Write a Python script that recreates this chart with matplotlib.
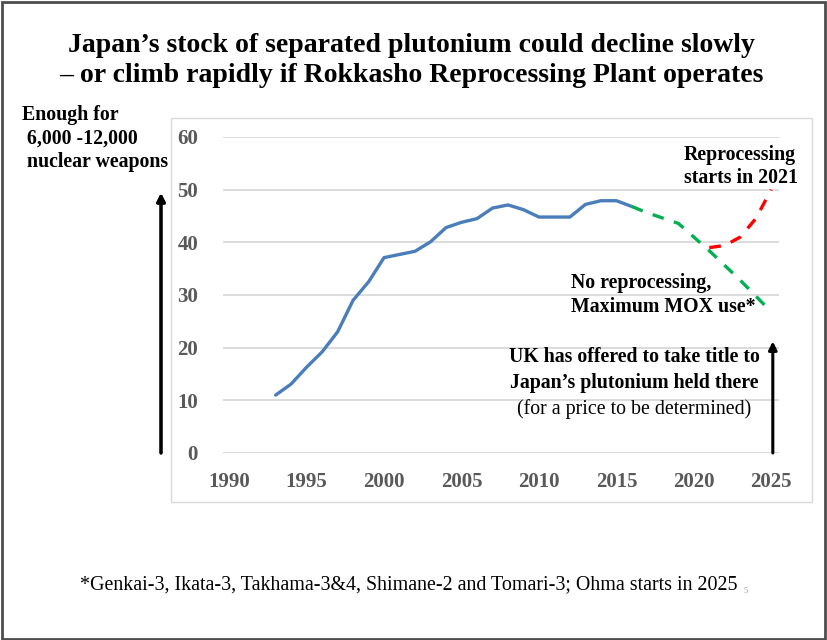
import matplotlib
matplotlib.use("Agg")
import matplotlib.pyplot as plt
from matplotlib.patches import Rectangle

# separated plutonium stock (tonnes)
years_hist = [1993, 1994, 1995, 1996, 1997, 1998, 1999, 2000, 2001, 2002, 2003, 2004,
              2005, 2006, 2007, 2008, 2009, 2010, 2011, 2012, 2013, 2014, 2015, 2016]
stock_hist = [11.0, 13.1, 16.3, 19.2, 23.0, 29.0, 32.5, 37.1, 37.7, 38.3, 40.1, 42.8,
              43.8, 44.5, 46.5, 47.1, 46.2, 44.8, 44.8, 44.8, 47.2, 47.9, 47.9, 46.8]

years_mox = [2016, 2017, 2018, 2019, 2020, 2021, 2022, 2023, 2024, 2025]
stock_mox = [46.8, 45.6, 44.6, 43.6, 41.0, 38.4, 35.6, 32.8, 29.8, 26.8]

years_rep = [2021, 2022, 2023, 2024, 2025]
stock_rep = [39.0, 39.4, 41.0, 44.5, 50.0]

xticks = [1990, 1995, 2000, 2005, 2010, 2015, 2020, 2025]
yticks = [0, 10, 20, 30, 40, 50, 60]

W, H = 827, 640
serif = "Liberation Serif"
fig = plt.figure(figsize=(W / 100, H / 100), dpi=100)

def fx(px):
    return px / W

def fy(py):
    # py measured from top of the image
    return 1 - py / H

# outer frame and chart box
fig.patches.append(Rectangle((fx(1.5), fy(638.5)), fx(823), 636.5 / H, transform=fig.transFigure,
                             fill=False, edgecolor="#4d4d4d", lw=2))
fig.patches.append(Rectangle((fx(171), fy(502)), fx(641), 384 / H, transform=fig.transFigure,
                             fill=False, edgecolor="#d9d9d9", lw=1))

ax = fig.add_axes([fx(223), fy(453), fx(556), (453 - 137) / H])
ax.plot(years_hist, stock_hist, color="#4a7ebb", lw=2.4, solid_capstyle="round")
ax.plot(years_mox, stock_mox, color="#00b050", lw=2.4, dashes=(3.5, 3.2))
ax.plot(years_rep, stock_rep, color="#ff0000", lw=2.4, dashes=(3.5, 3.2))

ax.set_xlim(1989.6, 2025.5)
ax.set_ylim(0, 60)
ax.set_xticks(xticks)
ax.set_yticks(yticks)
ax.grid(axis="y", color="#d9d9d9", lw=1.3)
ax.set_axisbelow(True)
for s in ax.spines.values():
    s.set_visible(False)
ax.tick_params(length=0, labelcolor="#595959")
ax.tick_params(axis="y", pad=18)
ax.tick_params(axis="x", pad=14)
for lab in ax.get_xticklabels() + ax.get_yticklabels():
    lab.set_fontfamily(serif)
    lab.set_fontweight("bold")
    lab.set_fontsize(15)

# title
fig.text(fx(411), fy(45), "Japan\u2019s stock of separated plutonium could decline slowly",
         ha="center", va="center", family=serif, weight="bold", fontsize=20)
fig.text(fx(411), fy(75), "\u2013 or climb rapidly if Rokkasho Reprocessing Plant operates",
         ha="center", va="center", family=serif, weight="bold", fontsize=20)

# left label and arrow
lab_kw = dict(ha="left", va="center", family=serif, weight="bold", fontsize=14.3)
fig.text(fx(22), fy(115), "Enough for", **lab_kw)
fig.text(fx(27), fy(139), "6,000 -12,000", **lab_kw)
fig.text(fx(27), fy(162), "nuclear weapons", **lab_kw)
fig.add_artist(plt.annotate("", xy=(fx(161), fy(193)), xytext=(fx(161), fy(453)),
                            xycoords="figure fraction", textcoords="figure fraction",
                            arrowprops=dict(arrowstyle="-|>", color="black", lw=2.2,
                                            mutation_scale=12, shrinkA=0, shrinkB=0)))

# scenario labels
fig.text(fx(684), fy(155), "Reprocessing", **lab_kw)
fig.text(fx(684), fy(178), "starts in 2021", **lab_kw)
fig.text(fx(571), fy(283), "No reprocessing,", **lab_kw)
fig.text(fx(571), fy(307), "Maximum MOX use*", **lab_kw)

fig.text(fx(634), fy(357), "UK has offered to take title to", ha="center", va="center",
         family=serif, weight="bold", fontsize=14.3)
fig.text(fx(634), fy(383), "Japan\u2019s plutonium held there", ha="center", va="center",
         family=serif, weight="bold", fontsize=14.3)
fig.text(fx(634), fy(409), "(for a price to be determined)", ha="center", va="center",
         family=serif, fontsize=14.3)
ax.annotate("", xy=(2025.1, 21.2), xytext=(2025.1, 0),
            arrowprops=dict(arrowstyle="-|>", color="black", lw=2.2,
                            mutation_scale=12, shrinkA=0, shrinkB=0),
            annotation_clip=False)

# footnote
fig.text(fx(80), fy(585), "*Genkai-3, Ikata-3, Takhama-3&4, Shimane-2 and Tomari-3; Ohma starts in 2025",
         ha="left", va="center", family=serif, fontsize=14.4)
fig.text(fx(746), fy(591), "5", ha="center", va="center", family=serif, fontsize=6, color="#a0a0a0")

fig.savefig("out.png", dpi=100)
